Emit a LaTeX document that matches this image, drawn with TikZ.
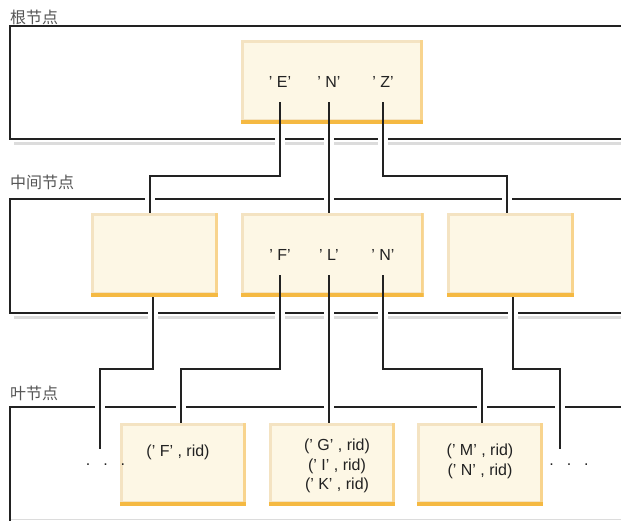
\documentclass[tikz,border=0pt]{standalone}
\usepackage{fontspec}
\setmainfont{Liberation Sans}
\newfontfamily\cjk{Noto Sans CJK SC}
\definecolor{boxfill}{HTML}{FDF7E5}
\definecolor{boxedge}{HTML}{F4E3C2}
\definecolor{boxbot}{HTML}{F5B942}
\definecolor{boxright}{HTML}{F8D48E}
\definecolor{frameline}{HTML}{222222}
\definecolor{shadowgray}{HTML}{DCDCDC}
\definecolor{lblgray}{HTML}{555555}
\definecolor{txt}{HTML}{222222}
\tikzset{
  bx/.style={fill=boxedge, minimum width=#1, minimum height=84pt, inner sep=0pt, outer sep=0pt,
    path picture={
      \fill[boxright] ([xshift=-3pt]path picture bounding box.north east) rectangle (path picture bounding box.south east);
      \fill[boxbot] (path picture bounding box.south west) rectangle ([yshift=4pt]path picture bounding box.south east);
      \fill[boxfill] ([xshift=3pt,yshift=5pt]path picture bounding box.south west) rectangle ([xshift=-3pt,yshift=-3pt]path picture bounding box.north east);
    }},
  frame/.style={draw=frameline, line width=2pt},
  shade/.style={draw=shadowgray, line width=3pt},
  conn/.style={draw=frameline, line width=1.6pt},
  key/.style={text=txt, font=\fontsize{16}{19.5}\selectfont, inner sep=0pt},
  lbl/.style={text=lblgray, font=\cjk\fontsize{16}{19}\selectfont, inner sep=0pt, anchor=base west},
  gap/.style={fill=white, draw=none}
}
\begin{document}
\begin{tikzpicture}[x=1pt,y=-1pt]
\useasboundingbox (0,0) rectangle (621,520);
\clip (0,0) rectangle (621,520);
% frames
\draw[frame] (630,26) -- (10,26) -- (10,139) -- (630,139);
\draw[shade] (14,143.5) -- (630,143.5);
\draw[frame] (630,199) -- (10,199) -- (10,313) -- (630,313);
\draw[shade] (14,317.5) -- (630,317.5);
\draw[frame] (630,407) -- (10,407) -- (10,530);
\draw[draw=shadowgray, line width=1pt] (11,519.5) -- (630,519.5);
% gaps where connectors cross frames
\foreach \x in {280,329,383} \fill[gap] (\x-5,136) rectangle (\x+5,146);
\foreach \x in {150,329,507} \fill[gap] (\x-5,197) rectangle (\x+5,201);
\foreach \x in {153,280,329,383,513} \fill[gap] (\x-5,310) rectangle (\x+5,320);
\foreach \x in {100,181,329,482,560} \fill[gap] (\x-5,405) rectangle (\x+5,409);
% labels
\node[lbl] (lroot) at (10,23) {根节点};
\node[lbl] (lmid) at (10,188) {中间节点};
\node[lbl] (lleaf) at (10,399) {叶节点};
% boxes
\node[bx=182pt] (root) at (332,82) {};
\node[bx=127pt] (mL) at (154.5,255) {};
\node[bx=183pt] (mM) at (332,255) {};
\node[bx=127pt] (mR) at (510.5,255) {};
\node[bx=126pt, minimum height=83pt] (l1) at (183,464.5) {};
\node[bx=126pt, minimum height=83pt] (l2) at (332,464.5) {};
\node[bx=126pt, minimum height=83pt] (l3) at (480,464.5) {};
% keys
\node[key] (rE) at (280,82) {’ E’};
\node[key] (rN) at (329,82) {’ N’};
\node[key] (rZ) at (383,82) {’ Z’};
\node[key] (mF) at (280,255) {’ F’};
\node[key] (mLk) at (329,255) {’ L’};
\node[key] (mN) at (383,255) {’ N’};
\node[key] (t1) at (178,452) {(’ F’ , rid)};
\node[key, align=center] (t2) at (337,466) {(’ G’ , rid)\\(’ I’ , rid)\\(’ K’ , rid)};
\node[key, align=center] (t3) at (480,461.5) {(’ M’ , rid)\\(’ N’ , rid)};
\node[key] (dl) at (105.5,465) {.\hspace{13pt}.\hspace{13pt}.};
\node[key] (dr) at (569,465) {.\hspace{13pt}.\hspace{13pt}.};
% connector start points
\coordinate (sE) at (280,102);
\coordinate (sN) at (329,102);
\coordinate (sZ) at (383,102);
\coordinate (sF) at (280,275);
\coordinate (sL) at (329,275);
\coordinate (sN2) at (383,275);
\coordinate (endL) at (100,449);
\coordinate (endR) at (560,449);
% connectors
\draw[conn] (sE) -- ++(0,74) -| ([xshift=-4.5pt]mL.north);
\draw[conn] (sN) -- (sN |- mM.north);
\draw[conn] (sZ) -- ++(0,74) -| ([xshift=-3.5pt]mR.north);
\draw[conn] ([xshift=-1.5pt]mL.south) -- ++(0,72) -| (endL);
\draw[conn] (sF) -- ++(0,94) -| ([xshift=-2pt]l1.north);
\draw[conn] (sL) -- (sL |- l2.north);
\draw[conn] (sN2) -- ++(0,94) -| ([xshift=2pt]l3.north);
\draw[conn] ([xshift=2.5pt]mR.south) -- ++(0,72) -| (endR);
\end{tikzpicture}
\end{document}
